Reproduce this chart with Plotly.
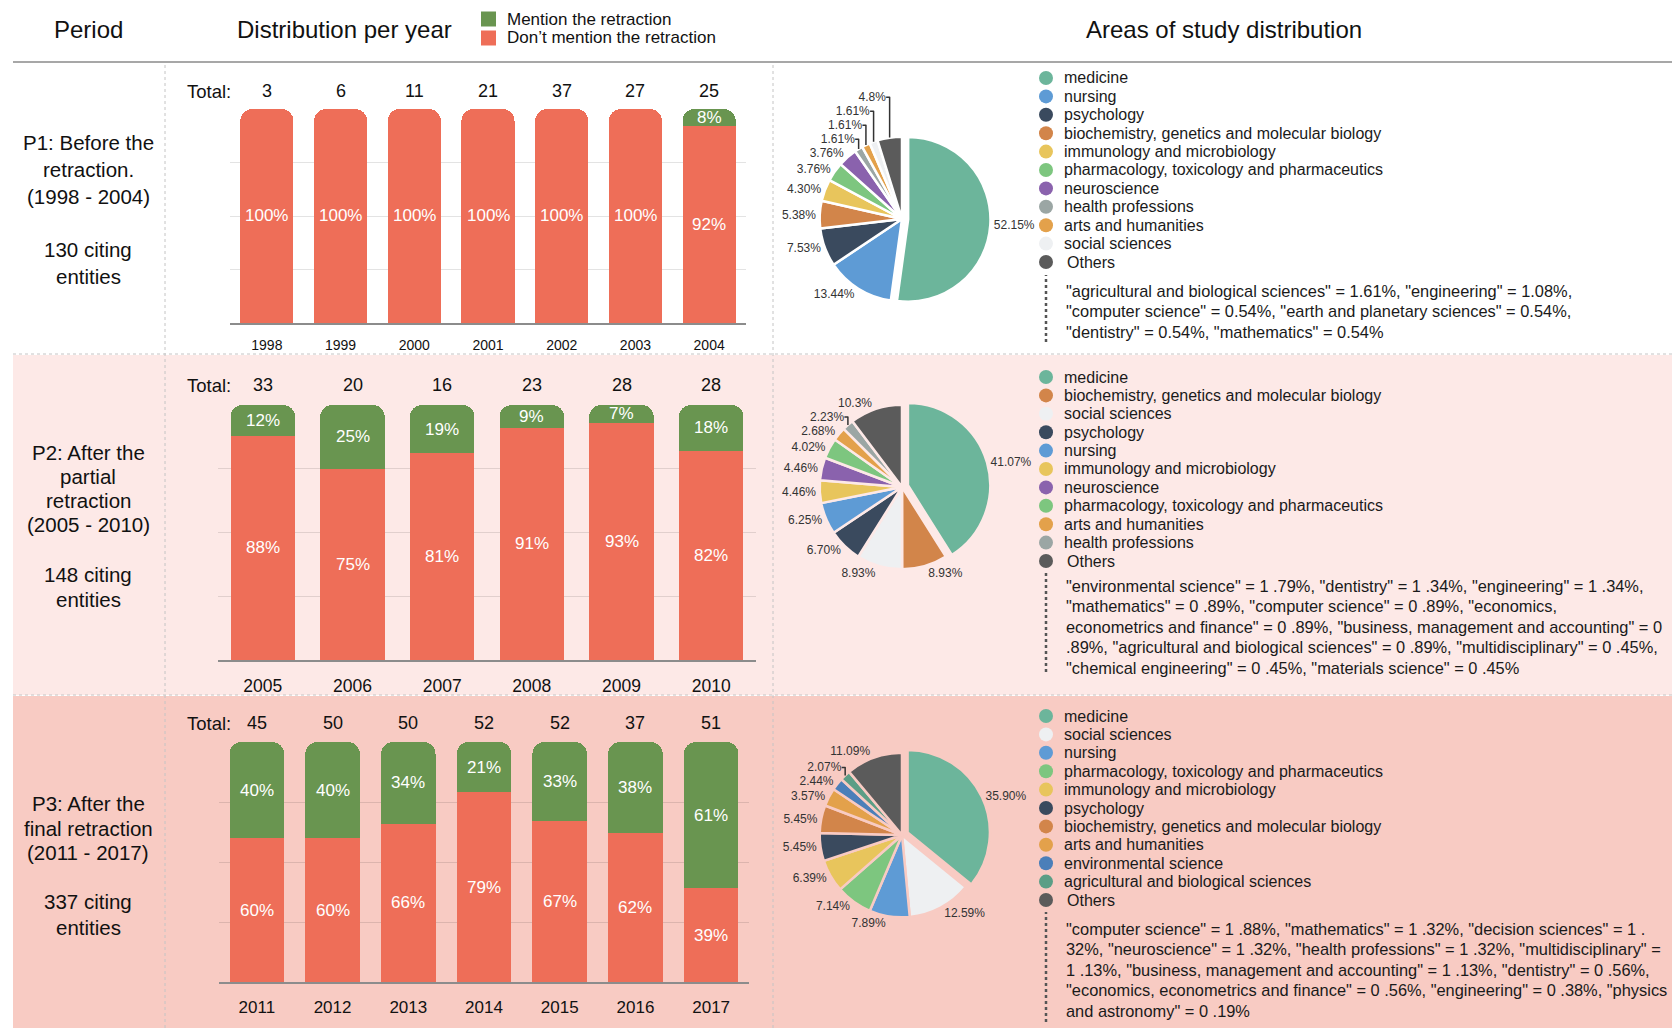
import plotly.graph_objects as go

W, H = 1672, 1028
FONT = "Liberation Sans, Arial, sans-serif"

# ---------------- data ----------------
p1_years = ["1998", "1999", "2000", "2001", "2002", "2003", "2004"]
p1_totals = [3, 6, 11, 21, 37, 27, 25]
p1_mention = [None, None, None, None, None, None, 8]
p1_nomention = [100, 100, 100, 100, 100, 100, 92]

p2_years = ["2005", "2006", "2007", "2008", "2009", "2010"]
p2_totals = [33, 20, 16, 23, 28, 28]
p2_mention = [12, 25, 19, 9, 7, 18]
p2_nomention = [88, 75, 81, 91, 93, 82]

p3_years = ["2011", "2012", "2013", "2014", "2015", "2016", "2017"]
p3_totals = [45, 50, 50, 52, 52, 37, 51]
p3_mention = [40, 40, 34, 21, 33, 38, 61]
p3_nomention = [60, 60, 66, 79, 67, 62, 39]

p1_areas = ["medicine", "nursing", "psychology", "biochemistry, genetics and molecular biology",
            "immunology and microbiology", "pharmacology, toxicology and pharmaceutics",
            "neuroscience", "health professions", "arts and humanities", "social sciences", "Others"]
p1_shares = [52.15, 13.44, 7.53, 5.38, 4.30, 3.76, 3.76, 1.61, 1.61, 1.61, 4.8]
p1_share_labels = ["52.15%", "13.44%", "7.53%", "5.38%", "4.30%", "3.76%", "3.76%",
                   "1.61%", "1.61%", "1.61%", "4.8%"]

p2_areas = ["medicine", "biochemistry, genetics and molecular biology", "social sciences",
            "psychology", "nursing", "immunology and microbiology", "neuroscience",
            "pharmacology, toxicology and pharmaceutics", "arts and humanities",
            "health professions", "Others"]
p2_shares = [41.07, 8.93, 8.93, 6.70, 6.25, 4.46, 4.46, 4.02, 2.68, 2.23, 10.3]
p2_share_labels = ["41.07%", "8.93%", "8.93%", "6.70%", "6.25%", "4.46%", "4.46%",
                   "4.02%", "2.68%", "2.23%", "10.3%"]

p3_areas = ["medicine", "social sciences", "nursing", "pharmacology, toxicology and pharmaceutics",
            "immunology and microbiology", "psychology", "biochemistry, genetics and molecular biology",
            "arts and humanities", "environmental science", "agricultural and biological sciences",
            "Others"]
p3_shares = [35.90, 12.59, 7.89, 7.14, 6.39, 5.45, 5.45, 3.57, 2.44, 2.07, 11.09]
p3_share_labels = ["35.90%", "12.59%", "7.89%", "7.14%", "6.39%", "5.45%", "5.45%",
                   "3.57%", "2.44%", "2.07%", "11.09%"]

p1_others_note = [
    '"agricultural and biological sciences" = 1.61%, "engineering" = 1.08%,',
    '"computer science" = 0.54%, "earth and planetary sciences" = 0.54%,',
    '"dentistry" = 0.54%, "mathematics" = 0.54%',
]
p2_others_note = [
    '"environmental science" = 1 .79%, "dentistry" = 1 .34%, "engineering" = 1 .34%,',
    '"mathematics" = 0 .89%, "computer science" = 0 .89%, "economics,',
    'econometrics and finance" = 0 .89%, "business, management and accounting" = 0',
    '.89%, "agricultural and biological sciences" = 0 .89%, "multidisciplinary" = 0 .45%,',
    '"chemical engineering" = 0 .45%, "materials science" = 0 .45%',
]
p3_others_note = [
    '"computer science" = 1 .88%, "mathematics" = 1 .32%, "decision sciences" = 1 .',
    '32%, "neuroscience" = 1 .32%, "health professions" = 1 .32%, "multidisciplinary" =',
    '1 .13%, "business, management and accounting" = 1 .13%, "dentistry" = 0 .56%,',
    '"economics, econometrics and finance" = 0 .56%, "engineering" = 0 .38%, "physics',
    'and astronomy" = 0 .19%',
]

period_lines = [
    ["P1: Before the", "retraction.", "(1998 - 2004)", "130 citing", "entities"],
    ["P2: After the", "partial", "retraction", "(2005 - 2010)", "148 citing", "entities"],
    ["P3: After the", "final retraction", "(2011 - 2017)", "337 citing", "entities"],
]

# ---------------- styles ----------------
RED = "#EE6E58"
GREEN = "#699550"
ROW_BG = ["#FFFFFF", "#FDE9E7", "#F8CBC3"]
AREA_COLORS = {
    "medicine": "#6CB59B",
    "nursing": "#5E9BD5",
    "psychology": "#3A4A5E",
    "biochemistry, genetics and molecular biology": "#D2854A",
    "immunology and microbiology": "#E8C55C",
    "pharmacology, toxicology and pharmaceutics": "#7DC67F",
    "neuroscience": "#8A62AD",
    "health professions": "#9BA6A4",
    "arts and humanities": "#E3A14B",
    "social sciences": "#EEF0F2",
    "environmental science": "#4B7FB9",
    "agricultural and biological sciences": "#5B9E86",
    "Others": "#5B5B5B",
}


def px(x):
    return x / W


def py(y):
    return 1 - y / H


fig = go.Figure()


def note(txt, x, y, size, anchor="center", color="#111", xref="paper", yref="paper"):
    fig.add_annotation(text=txt, x=x if xref != "paper" else px(x), y=y if yref != "paper" else py(y),
                       xref=xref, yref=yref, xanchor=anchor, yanchor="middle", showarrow=False,
                       font=dict(size=size, color=color, family=FONT))


# ---------------- row backgrounds & separators ----------------
rows = [(62, 354), (355, 695), (696, 1028)]
for (y0, y1), bg in zip(rows, ROW_BG):
    fig.add_shape(type="rect", xref="paper", yref="paper", x0=px(13), x1=1, y0=py(y1), y1=py(y0),
                  fillcolor=bg, line_width=0, layer="below")
for ys in (354, 695):
    fig.add_shape(type="line", xref="paper", yref="paper", x0=px(13), x1=1, y0=py(ys), y1=py(ys),
                  line=dict(color="#c4c4c4", width=1, dash="dot"), layer="below")
for xs in (165, 773):
    fig.add_shape(type="line", xref="paper", yref="paper", x0=px(xs), x1=px(xs), y0=0, y1=py(62),
                  line=dict(color="#c4c4c4", width=1, dash="dot"), layer="below")
fig.add_shape(type="line", xref="paper", yref="paper", x0=px(13), x1=1, y0=py(62), y1=py(62),
              line=dict(color="#8a8a8a", width=1.5))

# ---------------- header ----------------
note("Period", 88, 29, 24)
note("Distribution per year", 344, 29, 24)
note("Areas of study distribution", 1224, 29, 24)
for yy, col, lab in [(19, GREEN, "Mention the retraction"), (38, RED, "Don\u2019t mention the retraction")]:
    fig.add_shape(type="rect", xref="paper", yref="paper", x0=px(481), x1=px(496), y0=py(yy + 7.5),
                  y1=py(yy - 7.5), fillcolor=col, line_width=0)
    note(lab, 505, yy, 17, anchor="left")

# ---------------- period text ----------------
period_y = [[143, 170, 196, 249, 277], [452, 476, 500, 524, 574, 599], [803, 828, 852, 901, 927]]
for lines, ys in zip(period_lines, period_y):
    for t, yy in zip(lines, ys):
        note(t, 88, yy, 20.5)

# ---------------- bars ----------------
bar_panels = [
    (p1_years, p1_totals, p1_mention, p1_nomention, (230, 746), (109, 323), 91, 14, 8, ""),
    (p2_years, p2_totals, p2_mention, p2_nomention, (218, 756), (405, 660), 385, 17.5, 9, "2"),
    (p3_years, p3_totals, p3_mention, p3_nomention, (219, 749), (742, 982), 723, 17, 9, "3"),
]
for years, totals, mention, nomention, (xl, xr), (yt, yb), ytot, yfs, tl, sfx in bar_panels:
    xa, ya = "x" + sfx, "y" + sfx
    for vals, col in ((nomention, RED), (mention, GREEN)):
        fig.add_trace(go.Bar(x=years, y=vals, xaxis=xa, yaxis=ya, marker=dict(color=col, line_width=0),
                             showlegend=False, hoverinfo="skip"))
    # segment value labels, centred in each stacked segment (data coordinates)
    for i, (r, g) in enumerate(zip(nomention, mention)):
        note(f"{r}%", i, r / 2, 17, color="white", xref=xa, yref=ya)
        if g:
            note(f"{g}%", i, r + g / 2, 17, color="white", xref=xa, yref=ya)
    fig.update_layout(**{
        ("xaxis" + sfx): dict(domain=[px(xl), px(xr)], anchor=ya, type="category",
                             range=[-0.5, len(years) - 0.5], showgrid=False, automargin=False,
                             showline=True, linecolor="#8c8c8c", linewidth=1.5, ticks="outside",
                             ticklen=tl, tickcolor="rgba(0,0,0,0)",
                             tickfont=dict(size=yfs, color="#111", family=FONT), fixedrange=True),
        ("yaxis" + sfx): dict(domain=[py(yb), py(yt)], anchor=xa, range=[0, 100], dtick=25,
                             showticklabels=False, showgrid=True, gridcolor="rgba(0,0,0,0.11)",
                             gridwidth=1, zeroline=False, fixedrange=True, automargin=False),
    })
    note("Total:", 233, ytot, 18.5, anchor="right")
    for i, tot in enumerate(totals):
        note(str(tot), i, ytot, 18, xref=xa)

# ---------------- pies ----------------
pie_panels = [
    (p1_areas, p1_shares, p1_share_labels, 219, ROW_BG[0], p1_others_note, 78, 291, (275, 342)),
    (p2_areas, p2_shares, p2_share_labels, 487, ROW_BG[1], p2_others_note, 377, 586, (572, 672)),
    (p3_areas, p3_shares, p3_share_labels, 835, ROW_BG[2], p3_others_note, 716, 929, (912, 1022)),
]
PCX, HALF = 902, 88.5
for areas, shares, labs, cy, bg, notes, leg_y0, note_y0, (dl0, dl1) in pie_panels:
    fig.add_trace(go.Pie(
        values=shares, labels=areas, text=labs, textinfo="text", textposition="outside",
        sort=False, direction="clockwise", rotation=0,
        pull=[0.075 if a == "medicine" else 0 for a in areas],
        marker=dict(colors=[AREA_COLORS[a] for a in areas], line=dict(color=bg, width=2.5)),
        outsidetextfont=dict(size=12, color="#333", family=FONT),
        domain=dict(x=[px(PCX - HALF), px(PCX + HALF)], y=[py(cy + HALF), py(cy - HALF)]),
        showlegend=False, hoverinfo="skip", automargin=False))
    # legend
    for i, a in enumerate(areas):
        yy = leg_y0 + i * 18.4
        fig.add_shape(type="circle", xref="paper", yref="paper", x0=px(1039), x1=px(1053),
                      y0=py(yy + 7), y1=py(yy - 7), fillcolor=AREA_COLORS[a], line_width=0)
        note(a, 1062 if a != "Others" else 1065, yy, 16, anchor="left", color="#1a1a1a")
    fig.add_shape(type="line", xref="paper", yref="paper", x0=px(1046), x1=px(1046),
                  y0=py(dl1), y1=py(dl0), line=dict(color="#555", width=2.5, dash="dot"))
    for j, t in enumerate(notes):
        note(t, 1064, note_y0 + j * 20.4, 16.4, anchor="left", color="#1a1a1a")

fig.update_layout(
    width=W, height=H, margin=dict(l=0, r=0, t=0, b=0, pad=0, autoexpand=False),
    paper_bgcolor="white", plot_bgcolor="rgba(0,0,0,0)",
    barmode="stack", bargap=0.28, barcornerradius=12,
    font=dict(family=FONT, color="#111"),
    showlegend=False,
)

fig.write_html("out.html", config={"displayModeBar": False},
               post_script="document.body.style.margin='0';document.body.style.overflow='hidden';")
